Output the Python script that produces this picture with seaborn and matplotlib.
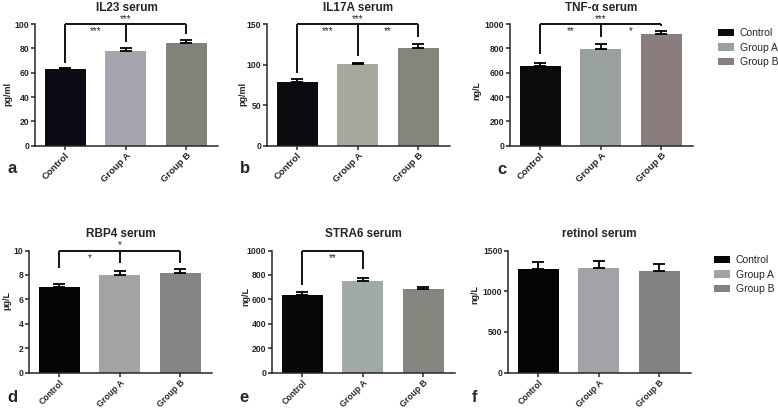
import matplotlib
matplotlib.use('Agg')
import matplotlib.pyplot as plt
from matplotlib.patches import Patch
import seaborn as sns

# bar heights and error bars
groups = ['Control', 'Group A', 'Group B']

il23_mean = [63, 78, 84]
il23_err = [1.2, 2.1, 2.8]
il17a_mean = [79, 101, 121]
il17a_err = [3, 1.5, 4.5]
tnfa_mean = [655, 797, 915]
tnfa_err = [27, 39, 25]
rbp4_mean = [7.0, 8.0, 8.15]
rbp4_err = [0.25, 0.35, 0.32]
stra6_mean = [637, 746, 684]
stra6_err = [22, 28, 16]
retinol_mean = [1275, 1283, 1242]
retinol_err = [82, 90, 91]

titles = ['IL23 serum', 'IL17A serum', 'TNF-α serum', 'RBP4 serum', 'STRA6 serum', 'retinol serum']
units = ['pg/ml', 'pg/ml', 'ng/L', 'μg/L', 'ng/L', 'ng/L']
letters = ['a', 'b', 'c', 'd', 'e', 'f']
ytop = [100, 150, 1000, 10, 1000, 1500]
ystep = [20, 50, 200, 2, 200, 500]

# significance: (lower ends of the bracket drops, top star, star C-A, star A-B)
sig_a = ([68, 85.5, 92], '***', '***', None)
sig_b = ([90, 110, 134], '***', '***', '**')
sig_c = ([753, 895, 983], '***', '**', '*')
sig_d = ([8.6, 9.0, 9.0], '*', '*', None)
sig_e = ([719, 850], None, '**', None)
sig_f = None

colors = [
    ['#0b0b14', '#a5a5ad', '#83837b'],
    ['#0b0b10', '#a8a8a0', '#85857d'],
    ['#0b0b0e', '#98a19e', '#8b7d7d'],
    ['#050505', '#a3a3a3', '#858585'],
    ['#08080b', '#a2aaa9', '#86867f'],
    ['#050505', '#a3a3a7', '#828282'],
]

means = [il23_mean, il17a_mean, tnfa_mean, rbp4_mean, stra6_mean, retinol_mean]
errs = [il23_err, il17a_err, tnfa_err, rbp4_err, stra6_err, retinol_err]
sigs = [sig_a, sig_b, sig_c, sig_d, sig_e, sig_f]

sns.set_style('ticks')
plt.rcParams['font.family'] = ['Liberation Sans', 'DejaVu Sans']

W, H = 778, 409
fig = plt.figure(figsize=(W / 100, H / 100), dpi=100)

# axes boxes in pixels: left, top, width, height
boxes = [(35, 24, 183, 121.7), (267, 24, 183, 121.7), (510, 24, 183, 121.7),
         (29, 250.5, 183, 122), (272, 250.5, 183, 122), (508, 250.5, 183, 122)]
ylab_pos = [(8, 94), (243, 94), (477, 90), (7, 300), (246, 296), (475, 295)]
letter_pos = [(12, 169), (245, 169), (502, 170), (12, 397), (244, 397), (475, 397)]

for i in range(6):
    l, t, w, h = boxes[i]
    ax = fig.add_axes([l / W, 1 - (t + h) / H, w / W, h / H])
    pal = dict(zip(groups, colors[i]))
    sns.barplot(x=groups, y=means[i], hue=groups, palette=pal, saturation=1,
                width=0.68, legend=False, ax=ax, edgecolor='none')
    ax.errorbar(range(3), means[i], yerr=[[0, 0, 0], errs[i]], fmt='none',
                ecolor='black', elinewidth=1.3, capsize=4.2, capthick=1.3, zorder=3)
    ax.set_xlim(-0.5, 2.52)
    ax.set_ylim(0, ytop[i])
    ax.set_yticks(range(0, ytop[i] + 1, ystep[i]))
    sns.despine(ax=ax)
    for s in ['left', 'bottom']:
        ax.spines[s].set_linewidth(1.1)
    ax.tick_params(direction='out', length=3, width=1.1, pad=1, labelsize=6.2)
    for lab in ax.get_yticklabels():
        lab.set_fontweight('bold')
    ax.set_xticks(range(3))
    # bottom row is close to the figure edge, so its labels are a touch smaller
    ax.set_xticklabels(groups, rotation=45, ha='right', rotation_mode='anchor',
                       fontsize=6.8 if i < 3 else 6.2, fontweight='bold')
    ax.set_xlabel('')
    ax.set_ylabel(units[i], fontsize=6.5, fontweight='bold', va='center')
    ax.yaxis.set_label_coords(ylab_pos[i][0] / W, 1 - ylab_pos[i][1] / H,
                              transform=fig.transFigure)
    ax.set_title(titles[i], fontsize=8.5, fontweight='bold', pad=9.5)
    fig.text(letter_pos[i][0] / W, 1 - letter_pos[i][1] / H, letters[i],
             fontsize=12, fontweight='bold', ha='center', va='center')

    sig = sigs[i]
    if sig is None:
        continue
    drops, top_star, left_star, right_star = sig
    top = ytop[i]
    kw = dict(color='black', lw=1.3, clip_on=False, solid_capstyle='butt')
    xs = list(range(len(drops)))
    ax.plot([xs[0], xs[-1]], [top, top], **kw)
    for x, d in zip(xs, drops):
        ax.plot([x, x], [d, top], **kw)
    if top_star:
        ax.annotate(top_star, xy=(1, top), xytext=(0, 1.5), textcoords='offset points',
                    ha='center', va='baseline', fontsize=7)
    if left_star:
        ax.annotate(left_star, xy=(0.5, top), xytext=(0, -7.5), textcoords='offset points',
                    ha='center', va='baseline', fontsize=7)
    if right_star:
        ax.annotate(right_star, xy=(1.5, top), xytext=(0, -7.5), textcoords='offset points',
                    ha='center', va='baseline', fontsize=7)

# two legends, one per row
for row, (lx, ly) in zip([2, 5], [(718, 28), (714, 255)]):
    handles = [Patch(facecolor=c, edgecolor='none') for c in colors[row]]
    fig.legend(handles, groups, loc='upper left', bbox_to_anchor=(lx / W, 1 - ly / H),
               frameon=False, fontsize=7.5, handlelength=1.5, handleheight=0.7,
               labelspacing=0.45, handletextpad=0.6, borderpad=0, borderaxespad=0)

fig.savefig('out.png', dpi=100)
